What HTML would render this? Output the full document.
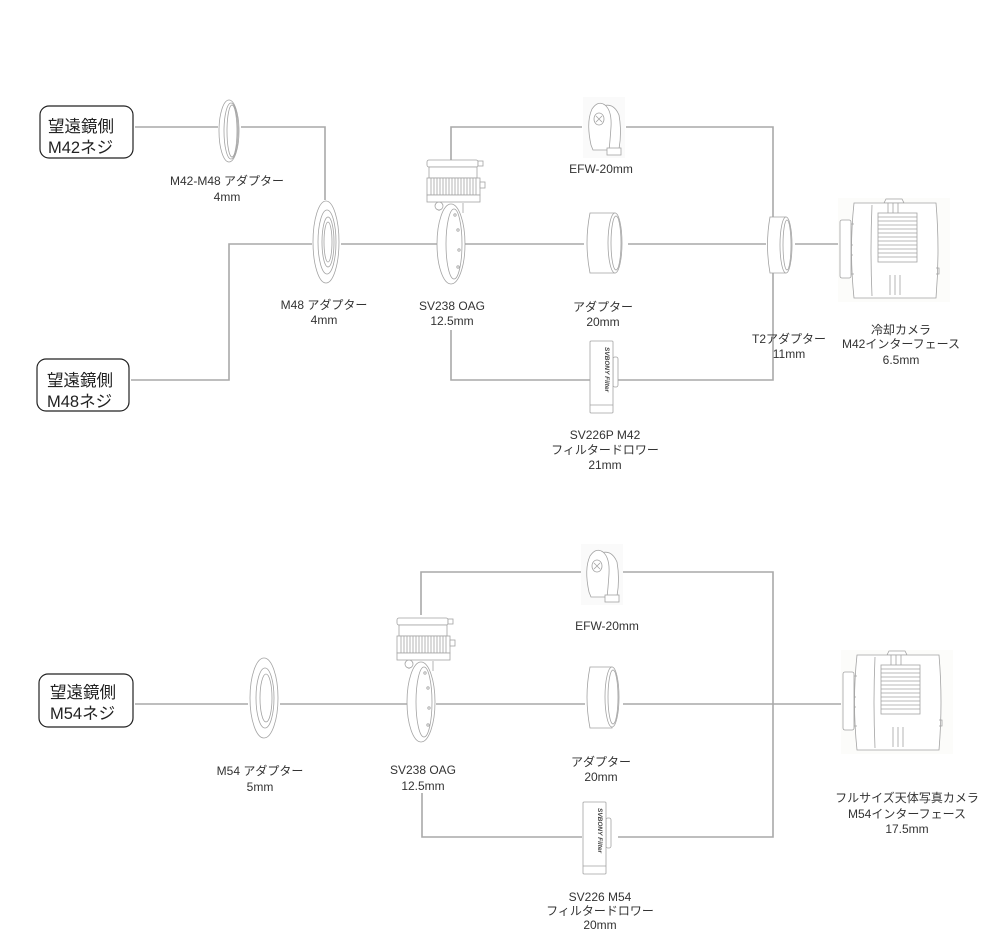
<!DOCTYPE html>
<html><head><meta charset="utf-8"><style>
html,body{margin:0;padding:0;background:#fff;}
svg{display:block;}
text{font-family:"Liberation Sans","Noto Sans CJK JP",sans-serif;fill:#333;}
.lbl{font-size:12px;text-anchor:middle;}
.box{font-size:16.5px;fill:#222;}
.ln{stroke:#a9a9a9;stroke-width:1.6;fill:none;}
.ic{stroke:#a3a3a3;stroke-width:0.8;fill:none;}
.icf{stroke:#a3a3a3;stroke-width:0.8;fill:#fff;}
</style></head><body>
<svg width="1000" height="950" viewBox="0 0 1000 950" xmlns="http://www.w3.org/2000/svg">
<defs>
<g id="cam">
  <rect x="-2" y="-2" width="112" height="104" fill="#fcfcfa" stroke="none"/>
  <path class="icf" d="M44,3 L46,-1 L62,-1 L64,3 Z"/>
  <path class="icf" d="M14,3 L96,3 Q100,50 96,98 L14,98 Q9,50 14,3 Z"/>
  <rect class="icf" x="0" y="20" width="11" height="58" rx="2"/>
  <path class="ic" d="M11,24 L14,24 M11,74 L14,74 M11,45 L13,45 M11,55 L13,55"/>
  <path class="ic" d="M32,5 Q30,50 32,96"/>
  <rect class="icf" x="38" y="13" width="39" height="49"/>
  <path class="ic" d="M38,17h39M38,21h39M38,25h39M38,29h39M38,33h39M38,37h39M38,41h39M38,45h39M38,49h39M38,53h39M38,57h39"/>
  <path class="ic" d="M48,3v10M53,3v10M58,3v10"/>
  <path class="ic" d="M50,75v20M55,75v20M60,75v20"/>
  <path class="ic" d="M96,68h3v6h-3"/>
</g>
<g id="oag">
  <path class="ic" d="M14,48 L14,56 M38,48 L38,58"/>
  <ellipse class="icf" cx="26" cy="89" rx="14" ry="40"/>
  <ellipse class="ic" cx="29" cy="89" rx="8" ry="35"/>
  <circle class="ic" cx="30" cy="60" r="1.2"/><circle class="ic" cx="33" cy="75" r="1.2"/><circle class="ic" cx="34" cy="95" r="1.2"/><circle class="ic" cx="33" cy="112" r="1.2"/>
  <circle class="icf" cx="14" cy="51" r="4"/>
  <rect class="icf" x="2" y="5" width="51" height="7" rx="2"/>
  <rect class="icf" x="53" y="6" width="5" height="5"/>
  <rect class="icf" x="4" y="12" width="48" height="11"/>
  <rect class="icf" x="2" y="23" width="53" height="17"/>
  <path class="ic" d="M6,23v17M9,23v17M12,23v17M15,23v17M18,23v17M21,23v17M24,23v17M27,23v17M30,23v17M33,23v17M36,23v17M39,23v17M42,23v17M45,23v17M48,23v17M51,23v17"/>
  <rect class="icf" x="55" y="27" width="5" height="6"/>
  <rect class="icf" x="2" y="40" width="53" height="7"/>
</g>
<g id="efw">
  <rect x="0" y="0" width="42" height="61" fill="#fafafa"/>
  <path class="icf" d="M18,10 Q30,4 36,18 Q39,35 36,52 L22,52 Z"/>
  <path class="icf" d="M8,48 Q3,25 9,12 Q15,3 22,8 Q29,14 28,30 Q27,45 26,53 L10,53 Z"/>
  <ellipse class="ic" cx="16" cy="22" rx="5" ry="6"/>
  <path class="ic" d="M13,19 L19,25 M19,19 L13,25"/>
  <rect class="icf" x="24" y="51" width="14" height="7"/>
</g>
<g id="drw">
  <rect class="icf" x="23" y="16" width="5" height="30" rx="2"/>
  <rect class="icf" x="0" y="0" width="23" height="72" rx="1"/>
  <path class="ic" d="M0,64h23"/>
  <text x="0" y="0" transform="translate(15,6) rotate(90)" style="font-size:6.5px;fill:#444;font-style:italic;font-weight:bold">SVBONY Filter</text>
</g>
</defs>

<!-- ============ TOP SECTION ============ -->
<rect x="40" y="106" width="93" height="52" rx="9" fill="#fff" stroke="#222" stroke-width="1.2"/>
<text class="box" x="48" y="132">望遠鏡側</text>
<text class="box" x="48" y="153">M42ネジ</text>
<rect x="37" y="359" width="92" height="52" rx="9" fill="#fff" stroke="#222" stroke-width="1.2"/>
<text class="box" x="47" y="386">望遠鏡側</text>
<text class="box" x="47" y="407">M48ネジ</text>

<path class="ln" d="M135,127 H218 M241,127 H325 V200"/>
<path class="ln" d="M131,380 H229 V244 H312 M341,244 H437 M465,244 H584 M628,244 H766 M795,244 H838"/>
<path class="ln" d="M451,160 V127 H582 M626,127 H773 V217 M773,273 V380 H617 M590,380 H451 V330"/>

<ellipse class="icf" cx="229" cy="131" rx="10" ry="31"/>
<ellipse class="ic" cx="231" cy="131" rx="7" ry="28"/>
<ellipse class="ic" cx="232" cy="131" rx="5" ry="26"/>
<ellipse class="icf" cx="326" cy="242" rx="13" ry="41"/>
<ellipse class="ic" cx="327" cy="242" rx="9" ry="32"/>
<ellipse class="ic" cx="328" cy="242" rx="6" ry="25"/>
<ellipse class="ic" cx="328" cy="242" rx="4" ry="20"/>

<use href="#oag" x="425" y="155"/>
<use href="#efw" x="583" y="97"/>
<path class="icf" d="M590,213 L615,213 L615,273 L590,273 Q584,243 590,213 Z"/>
<ellipse class="icf" cx="615" cy="243" rx="7" ry="30"/>
<ellipse class="ic" cx="616" cy="243" rx="5" ry="27"/>
<path class="icf" d="M770,217 L786,217 L786,273 L770,273 Q765,245 770,217 Z"/>
<ellipse class="icf" cx="786" cy="245" rx="6" ry="28"/>
<ellipse class="ic" cx="787" cy="245" rx="4" ry="25"/>
<use href="#cam" x="840" y="200"/>
<use href="#drw" x="590" y="341"/>

<text class="lbl" x="227" y="185">M42-M48 アダプター</text>
<text class="lbl" x="227" y="201">4mm</text>
<text class="lbl" x="324" y="309">M48 アダプター</text>
<text class="lbl" x="324" y="324">4mm</text>
<text class="lbl" x="452" y="310">SV238 OAG</text>
<text class="lbl" x="452" y="325">12.5mm</text>
<text class="lbl" x="601" y="173">EFW-20mm</text>
<text class="lbl" x="603" y="311">アダプター</text>
<text class="lbl" x="603" y="326">20mm</text>
<text class="lbl" x="789" y="343">T2アダプター</text>
<text class="lbl" x="789" y="358">11mm</text>
<text class="lbl" x="901" y="334">冷却カメラ</text>
<text class="lbl" x="901" y="348">M42インターフェース</text>
<text class="lbl" x="901" y="364">6.5mm</text>
<text class="lbl" x="605" y="439">SV226P M42</text>
<text class="lbl" x="605" y="454">フィルタードロワー</text>
<text class="lbl" x="605" y="469">21mm</text>

<!-- ============ BOTTOM SECTION ============ -->
<rect x="39" y="674" width="94" height="53" rx="9" fill="#fff" stroke="#222" stroke-width="1.2"/>
<text class="box" x="50" y="698">望遠鏡側</text>
<text class="box" x="50" y="719">M54ネジ</text>

<path class="ln" d="M135,704 H248 M280,704 H407 M436,704 H585 M623,704 H842"/>
<path class="ln" d="M421,615 V572 H582 M622,572 H773 V837 H618 M582,837 H422 V793"/>

<ellipse class="icf" cx="264" cy="698" rx="14" ry="40"/>
<ellipse class="ic" cx="265" cy="698" rx="9" ry="30"/>
<ellipse class="ic" cx="266" cy="698" rx="6" ry="24"/>
<use href="#oag" x="395" y="613"/>
<use href="#efw" x="581" y="544"/>
<path class="icf" d="M590,667 L612,667 L612,728 L590,728 Q584,697 590,667 Z"/>
<ellipse class="icf" cx="612" cy="697" rx="7" ry="30"/>
<ellipse class="ic" cx="613" cy="697" rx="5" ry="27"/>
<use href="#cam" x="843" y="652"/>
<use href="#drw" x="583" y="802"/>

<text class="lbl" x="260" y="775">M54 アダプター</text>
<text class="lbl" x="260" y="791">5mm</text>
<text class="lbl" x="423" y="774">SV238 OAG</text>
<text class="lbl" x="423" y="790">12.5mm</text>
<text class="lbl" x="607" y="630">EFW-20mm</text>
<text class="lbl" x="601" y="766">アダプター</text>
<text class="lbl" x="601" y="781">20mm</text>
<text class="lbl" x="907" y="802">フルサイズ天体写真カメラ</text>
<text class="lbl" x="907" y="818">M54インターフェース</text>
<text class="lbl" x="907" y="833">17.5mm</text>
<text class="lbl" x="600" y="901">SV226 M54</text>
<text class="lbl" x="600" y="915">フィルタードロワー</text>
<text class="lbl" x="600" y="929">20mm</text>
</svg>
</body></html>
